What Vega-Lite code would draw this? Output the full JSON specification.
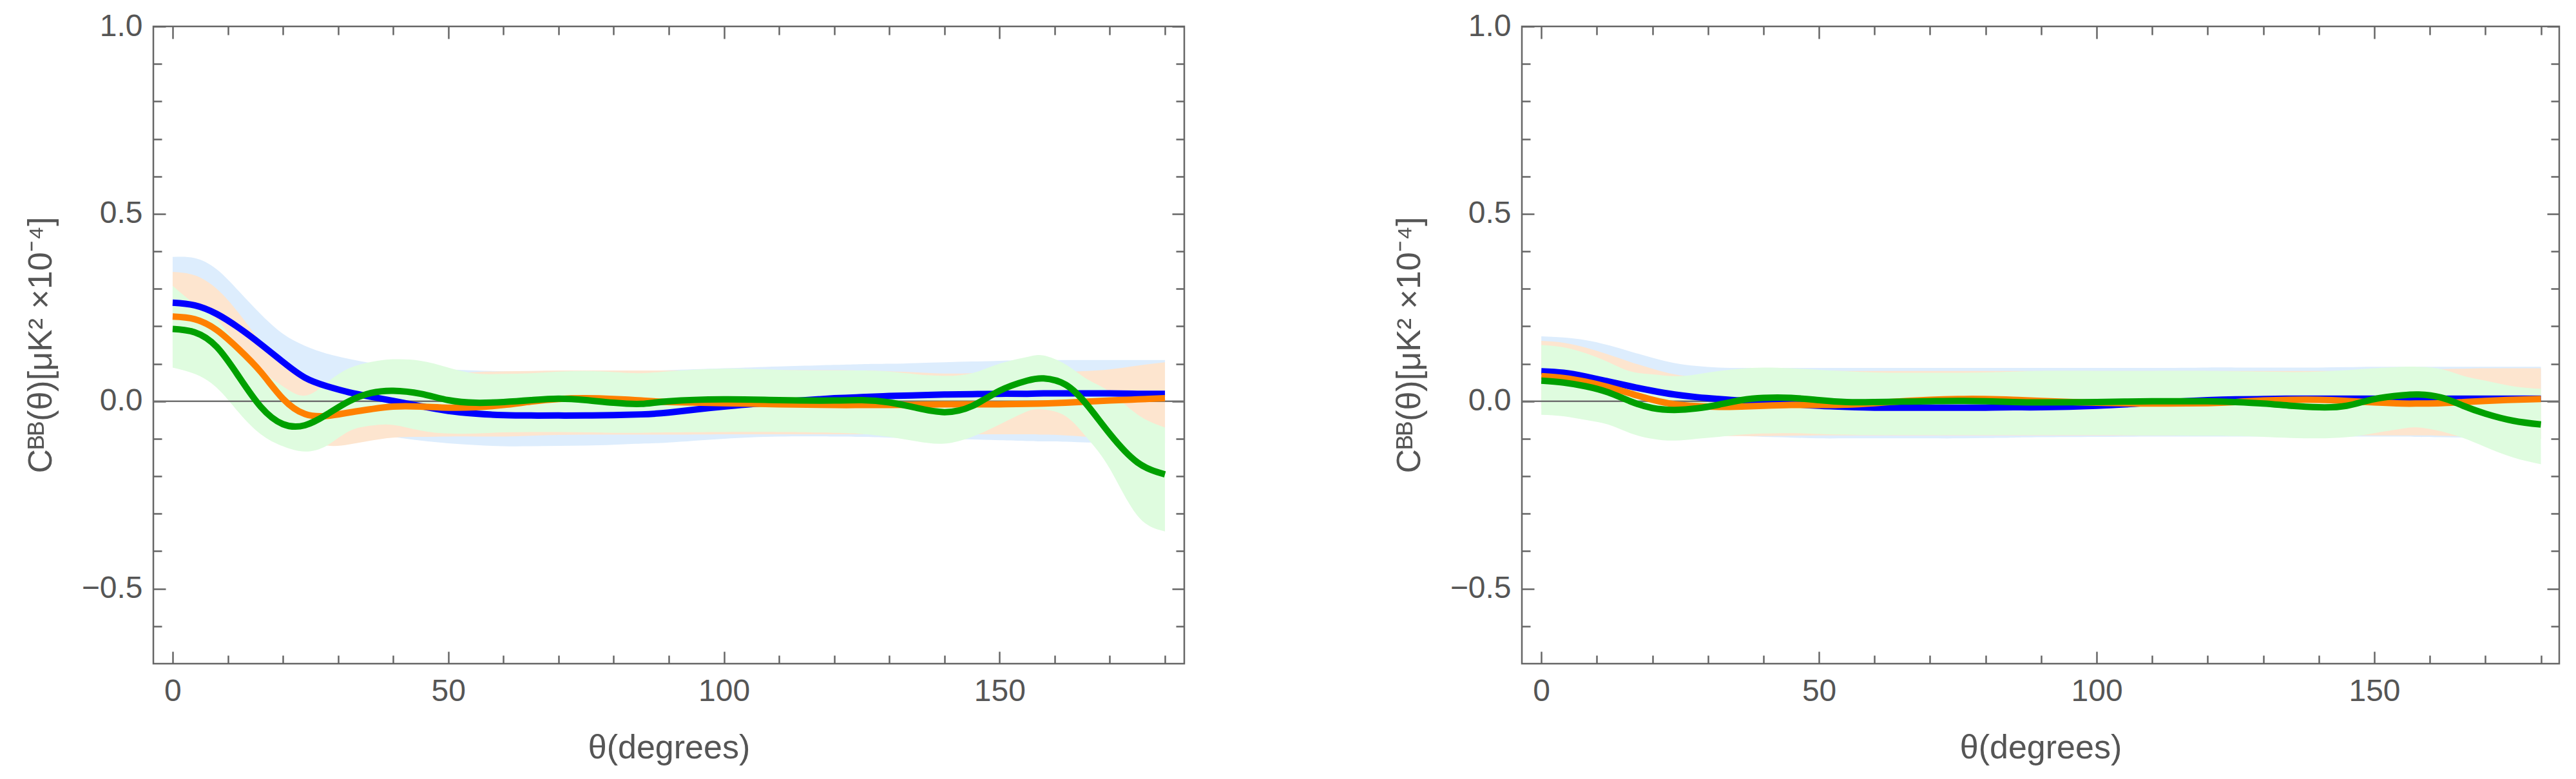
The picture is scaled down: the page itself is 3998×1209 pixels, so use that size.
{
  "$schema": "https://vega.github.io/schema/vega-lite/v6.json",
  "background": "white",
  "padding": {"left": 35, "top": 15, "right": 0, "bottom": 0},
  "spacing": 318,
  "config": {
    "view": {"stroke": "#666", "strokeWidth": 2.5},
    "axis": {"domain": false, "grid": false, "tickColor": "#666", "tickWidth": 2.5, "labelFont": "Liberation Sans", "labelFontSize": 48, "labelColor": "#555", "titleFont": "Liberation Sans", "titleFontSize": 52, "titleFontWeight": "normal", "titleColor": "#555", "minExtent": 0}
  },
  "datasets": {
    "d": [
      {"p":"L","s":"b","t":0,"m":0.263,"lo":0.14,"hi":0.385},
      {"p":"L","s":"b","t":4,"m":0.256,"lo":0.135,"hi":0.382},
      {"p":"L","s":"b","t":8,"m":0.233,"lo":0.115,"hi":0.352},
      {"p":"L","s":"b","t":12,"m":0.196,"lo":0.085,"hi":0.294},
      {"p":"L","s":"b","t":16,"m":0.152,"lo":0.05,"hi":0.232},
      {"p":"L","s":"b","t":20,"m":0.105,"lo":0.015,"hi":0.18},
      {"p":"L","s":"b","t":24,"m":0.063,"lo":-0.02,"hi":0.148},
      {"p":"L","s":"b","t":28,"m":0.04,"lo":-0.05,"hi":0.127},
      {"p":"L","s":"b","t":32,"m":0.024,"lo":-0.07,"hi":0.113},
      {"p":"L","s":"b","t":36,"m":0.012,"lo":-0.085,"hi":0.102},
      {"p":"L","s":"b","t":40,"m":0.001,"lo":-0.095,"hi":0.095},
      {"p":"L","s":"b","t":45,"m":-0.013,"lo":-0.105,"hi":0.09},
      {"p":"L","s":"b","t":50,"m":-0.026,"lo":-0.112,"hi":0.085},
      {"p":"L","s":"b","t":55,"m":-0.033,"lo":-0.117,"hi":0.082},
      {"p":"L","s":"b","t":60,"m":-0.037,"lo":-0.12,"hi":0.08},
      {"p":"L","s":"b","t":65,"m":-0.038,"lo":-0.12,"hi":0.079},
      {"p":"L","s":"b","t":70,"m":-0.038,"lo":-0.119,"hi":0.079},
      {"p":"L","s":"b","t":75,"m":-0.038,"lo":-0.118,"hi":0.079},
      {"p":"L","s":"b","t":80,"m":-0.037,"lo":-0.116,"hi":0.08},
      {"p":"L","s":"b","t":85,"m":-0.035,"lo":-0.113,"hi":0.081},
      {"p":"L","s":"b","t":90,"m":-0.03,"lo":-0.11,"hi":0.083},
      {"p":"L","s":"b","t":100,"m":-0.014,"lo":-0.1,"hi":0.088},
      {"p":"L","s":"b","t":110,"m":-0.002,"lo":-0.094,"hi":0.093},
      {"p":"L","s":"b","t":120,"m":0.008,"lo":-0.094,"hi":0.097},
      {"p":"L","s":"b","t":125,"m":0.011,"lo":-0.095,"hi":0.099},
      {"p":"L","s":"b","t":130,"m":0.014,"lo":-0.097,"hi":0.1},
      {"p":"L","s":"b","t":135,"m":0.016,"lo":-0.099,"hi":0.102},
      {"p":"L","s":"b","t":140,"m":0.018,"lo":-0.1,"hi":0.104},
      {"p":"L","s":"b","t":145,"m":0.019,"lo":-0.102,"hi":0.106},
      {"p":"L","s":"b","t":150,"m":0.02,"lo":-0.104,"hi":0.108},
      {"p":"L","s":"b","t":155,"m":0.02,"lo":-0.106,"hi":0.11},
      {"p":"L","s":"b","t":158,"m":0.021,"lo":-0.107,"hi":0.11},
      {"p":"L","s":"b","t":162,"m":0.021,"lo":-0.108,"hi":0.11},
      {"p":"L","s":"b","t":166,"m":0.021,"lo":-0.11,"hi":0.11},
      {"p":"L","s":"b","t":170,"m":0.021,"lo":-0.11,"hi":0.11},
      {"p":"L","s":"b","t":175,"m":0.02,"lo":-0.11,"hi":0.11},
      {"p":"L","s":"b","t":180,"m":0.02,"lo":-0.11,"hi":0.11},

      {"p":"L","s":"o","t":0,"m":0.226,"lo":0.105,"hi":0.345},
      {"p":"L","s":"o","t":4,"m":0.219,"lo":0.1,"hi":0.336},
      {"p":"L","s":"o","t":8,"m":0.19,"lo":0.075,"hi":0.3},
      {"p":"L","s":"o","t":12,"m":0.139,"lo":0.035,"hi":0.235},
      {"p":"L","s":"o","t":16,"m":0.078,"lo":-0.01,"hi":0.16},
      {"p":"L","s":"o","t":20,"m":0.007,"lo":-0.06,"hi":0.105},
      {"p":"L","s":"o","t":24,"m":-0.034,"lo":-0.095,"hi":0.065},
      {"p":"L","s":"o","t":28,"m":-0.039,"lo":-0.118,"hi":0.045},
      {"p":"L","s":"o","t":32,"m":-0.03,"lo":-0.115,"hi":0.04},
      {"p":"L","s":"o","t":36,"m":-0.021,"lo":-0.105,"hi":0.05},
      {"p":"L","s":"o","t":40,"m":-0.014,"lo":-0.097,"hi":0.06},
      {"p":"L","s":"o","t":45,"m":-0.014,"lo":-0.095,"hi":0.07},
      {"p":"L","s":"o","t":50,"m":-0.017,"lo":-0.094,"hi":0.075},
      {"p":"L","s":"o","t":55,"m":-0.016,"lo":-0.094,"hi":0.078},
      {"p":"L","s":"o","t":60,"m":-0.01,"lo":-0.094,"hi":0.08},
      {"p":"L","s":"o","t":65,"m":-0.001,"lo":-0.092,"hi":0.081},
      {"p":"L","s":"o","t":70,"m":0.006,"lo":-0.09,"hi":0.082},
      {"p":"L","s":"o","t":75,"m":0.008,"lo":-0.089,"hi":0.082},
      {"p":"L","s":"o","t":80,"m":0.006,"lo":-0.089,"hi":0.082},
      {"p":"L","s":"o","t":85,"m":0.002,"lo":-0.089,"hi":0.082},
      {"p":"L","s":"o","t":90,"m":-0.002,"lo":-0.089,"hi":0.082},
      {"p":"L","s":"o","t":100,"m":-0.005,"lo":-0.088,"hi":0.082},
      {"p":"L","s":"o","t":110,"m":-0.008,"lo":-0.088,"hi":0.083},
      {"p":"L","s":"o","t":120,"m":-0.01,"lo":-0.088,"hi":0.083},
      {"p":"L","s":"o","t":125,"m":-0.01,"lo":-0.088,"hi":0.082},
      {"p":"L","s":"o","t":130,"m":-0.01,"lo":-0.088,"hi":0.08},
      {"p":"L","s":"o","t":135,"m":-0.009,"lo":-0.088,"hi":0.077},
      {"p":"L","s":"o","t":140,"m":-0.008,"lo":-0.088,"hi":0.074},
      {"p":"L","s":"o","t":145,"m":-0.008,"lo":-0.088,"hi":0.075},
      {"p":"L","s":"o","t":150,"m":-0.008,"lo":-0.088,"hi":0.077},
      {"p":"L","s":"o","t":155,"m":-0.007,"lo":-0.088,"hi":0.078},
      {"p":"L","s":"o","t":158,"m":-0.006,"lo":-0.089,"hi":0.078},
      {"p":"L","s":"o","t":162,"m":-0.004,"lo":-0.091,"hi":0.079},
      {"p":"L","s":"o","t":166,"m":-0.001,"lo":-0.095,"hi":0.081},
      {"p":"L","s":"o","t":170,"m":0.002,"lo":-0.1,"hi":0.085},
      {"p":"L","s":"o","t":175,"m":0.005,"lo":-0.106,"hi":0.095},
      {"p":"L","s":"o","t":180,"m":0.008,"lo":-0.11,"hi":0.104},

      {"p":"L","s":"g","t":0,"m":0.193,"lo":0.09,"hi":0.308},
      {"p":"L","s":"g","t":4,"m":0.184,"lo":0.073,"hi":0.26},
      {"p":"L","s":"g","t":8,"m":0.145,"lo":0.036,"hi":0.218},
      {"p":"L","s":"g","t":12,"m":0.066,"lo":-0.03,"hi":0.145},
      {"p":"L","s":"g","t":16,"m":-0.015,"lo":-0.088,"hi":0.083},
      {"p":"L","s":"g","t":20,"m":-0.061,"lo":-0.12,"hi":0.04},
      {"p":"L","s":"g","t":24,"m":-0.064,"lo":-0.134,"hi":0.015},
      {"p":"L","s":"g","t":28,"m":-0.035,"lo":-0.118,"hi":0.05},
      {"p":"L","s":"g","t":32,"m":0.0,"lo":-0.08,"hi":0.088},
      {"p":"L","s":"g","t":36,"m":0.022,"lo":-0.065,"hi":0.105},
      {"p":"L","s":"g","t":40,"m":0.028,"lo":-0.063,"hi":0.112},
      {"p":"L","s":"g","t":45,"m":0.02,"lo":-0.078,"hi":0.108},
      {"p":"L","s":"g","t":50,"m":0.003,"lo":-0.086,"hi":0.09},
      {"p":"L","s":"g","t":55,"m":-0.004,"lo":-0.086,"hi":0.074},
      {"p":"L","s":"g","t":60,"m":-0.002,"lo":-0.083,"hi":0.073},
      {"p":"L","s":"g","t":65,"m":0.003,"lo":-0.082,"hi":0.075},
      {"p":"L","s":"g","t":70,"m":0.007,"lo":-0.082,"hi":0.079},
      {"p":"L","s":"g","t":75,"m":0.003,"lo":-0.083,"hi":0.081},
      {"p":"L","s":"g","t":80,"m":-0.004,"lo":-0.084,"hi":0.078},
      {"p":"L","s":"g","t":85,"m":-0.007,"lo":-0.084,"hi":0.075},
      {"p":"L","s":"g","t":90,"m":0.0,"lo":-0.083,"hi":0.08},
      {"p":"L","s":"g","t":100,"m":0.005,"lo":-0.082,"hi":0.087},
      {"p":"L","s":"g","t":110,"m":0.003,"lo":-0.082,"hi":0.084},
      {"p":"L","s":"g","t":120,"m":0.002,"lo":-0.084,"hi":0.082},
      {"p":"L","s":"g","t":125,"m":0.003,"lo":-0.087,"hi":0.082},
      {"p":"L","s":"g","t":130,"m":-0.003,"lo":-0.095,"hi":0.079},
      {"p":"L","s":"g","t":135,"m":-0.018,"lo":-0.107,"hi":0.072},
      {"p":"L","s":"g","t":140,"m":-0.029,"lo":-0.113,"hi":0.068},
      {"p":"L","s":"g","t":145,"m":-0.013,"lo":-0.095,"hi":0.075},
      {"p":"L","s":"g","t":150,"m":0.028,"lo":-0.062,"hi":0.1},
      {"p":"L","s":"g","t":155,"m":0.055,"lo":-0.027,"hi":0.118},
      {"p":"L","s":"g","t":158,"m":0.061,"lo":-0.022,"hi":0.122},
      {"p":"L","s":"g","t":162,"m":0.044,"lo":-0.04,"hi":0.098},
      {"p":"L","s":"g","t":166,"m":-0.012,"lo":-0.1,"hi":0.058},
      {"p":"L","s":"g","t":170,"m":-0.087,"lo":-0.18,"hi":0.025},
      {"p":"L","s":"g","t":175,"m":-0.163,"lo":-0.305,"hi":-0.035},
      {"p":"L","s":"g","t":180,"m":-0.195,"lo":-0.347,"hi":-0.07},

      {"p":"R","s":"b","t":0,"m":0.08,"lo":-0.01,"hi":0.173},
      {"p":"R","s":"b","t":4,"m":0.076,"lo":-0.013,"hi":0.17},
      {"p":"R","s":"b","t":8,"m":0.066,"lo":-0.02,"hi":0.163},
      {"p":"R","s":"b","t":12,"m":0.053,"lo":-0.03,"hi":0.15},
      {"p":"R","s":"b","t":16,"m":0.04,"lo":-0.045,"hi":0.133},
      {"p":"R","s":"b","t":20,"m":0.028,"lo":-0.06,"hi":0.116},
      {"p":"R","s":"b","t":24,"m":0.018,"lo":-0.07,"hi":0.102},
      {"p":"R","s":"b","t":28,"m":0.011,"lo":-0.08,"hi":0.094},
      {"p":"R","s":"b","t":32,"m":0.006,"lo":-0.088,"hi":0.09},
      {"p":"R","s":"b","t":36,"m":0.002,"lo":-0.092,"hi":0.089},
      {"p":"R","s":"b","t":40,"m":-0.001,"lo":-0.095,"hi":0.089},
      {"p":"R","s":"b","t":45,"m":-0.007,"lo":-0.097,"hi":0.089},
      {"p":"R","s":"b","t":50,"m":-0.012,"lo":-0.099,"hi":0.089},
      {"p":"R","s":"b","t":55,"m":-0.015,"lo":-0.099,"hi":0.089},
      {"p":"R","s":"b","t":60,"m":-0.017,"lo":-0.099,"hi":0.089},
      {"p":"R","s":"b","t":65,"m":-0.017,"lo":-0.099,"hi":0.089},
      {"p":"R","s":"b","t":70,"m":-0.017,"lo":-0.099,"hi":0.089},
      {"p":"R","s":"b","t":75,"m":-0.017,"lo":-0.099,"hi":0.089},
      {"p":"R","s":"b","t":80,"m":-0.017,"lo":-0.098,"hi":0.089},
      {"p":"R","s":"b","t":85,"m":-0.016,"lo":-0.097,"hi":0.089},
      {"p":"R","s":"b","t":90,"m":-0.016,"lo":-0.096,"hi":0.089},
      {"p":"R","s":"b","t":100,"m":-0.012,"lo":-0.095,"hi":0.089},
      {"p":"R","s":"b","t":110,"m":-0.004,"lo":-0.094,"hi":0.089},
      {"p":"R","s":"b","t":120,"m":0.003,"lo":-0.094,"hi":0.09},
      {"p":"R","s":"b","t":125,"m":0.005,"lo":-0.094,"hi":0.09},
      {"p":"R","s":"b","t":130,"m":0.006,"lo":-0.094,"hi":0.09},
      {"p":"R","s":"b","t":135,"m":0.007,"lo":-0.094,"hi":0.09},
      {"p":"R","s":"b","t":140,"m":0.007,"lo":-0.094,"hi":0.09},
      {"p":"R","s":"b","t":145,"m":0.007,"lo":-0.094,"hi":0.091},
      {"p":"R","s":"b","t":150,"m":0.007,"lo":-0.094,"hi":0.092},
      {"p":"R","s":"b","t":155,"m":0.007,"lo":-0.094,"hi":0.092},
      {"p":"R","s":"b","t":158,"m":0.007,"lo":-0.095,"hi":0.092},
      {"p":"R","s":"b","t":162,"m":0.007,"lo":-0.096,"hi":0.092},
      {"p":"R","s":"b","t":166,"m":0.007,"lo":-0.097,"hi":0.092},
      {"p":"R","s":"b","t":170,"m":0.007,"lo":-0.098,"hi":0.092},
      {"p":"R","s":"b","t":175,"m":0.007,"lo":-0.099,"hi":0.092},
      {"p":"R","s":"b","t":180,"m":0.007,"lo":-0.1,"hi":0.092},

      {"p":"R","s":"o","t":0,"m":0.067,"lo":-0.02,"hi":0.161},
      {"p":"R","s":"o","t":4,"m":0.062,"lo":-0.024,"hi":0.156},
      {"p":"R","s":"o","t":8,"m":0.052,"lo":-0.03,"hi":0.143},
      {"p":"R","s":"o","t":12,"m":0.038,"lo":-0.04,"hi":0.125},
      {"p":"R","s":"o","t":16,"m":0.021,"lo":-0.055,"hi":0.105},
      {"p":"R","s":"o","t":20,"m":0.004,"lo":-0.07,"hi":0.087},
      {"p":"R","s":"o","t":24,"m":-0.008,"lo":-0.08,"hi":0.072},
      {"p":"R","s":"o","t":28,"m":-0.013,"lo":-0.088,"hi":0.066},
      {"p":"R","s":"o","t":32,"m":-0.015,"lo":-0.092,"hi":0.07},
      {"p":"R","s":"o","t":36,"m":-0.014,"lo":-0.093,"hi":0.075},
      {"p":"R","s":"o","t":40,"m":-0.012,"lo":-0.093,"hi":0.078},
      {"p":"R","s":"o","t":45,"m":-0.01,"lo":-0.092,"hi":0.08},
      {"p":"R","s":"o","t":50,"m":-0.01,"lo":-0.091,"hi":0.081},
      {"p":"R","s":"o","t":55,"m":-0.009,"lo":-0.091,"hi":0.081},
      {"p":"R","s":"o","t":60,"m":-0.005,"lo":-0.091,"hi":0.081},
      {"p":"R","s":"o","t":65,"m":0.0,"lo":-0.091,"hi":0.081},
      {"p":"R","s":"o","t":70,"m":0.004,"lo":-0.091,"hi":0.081},
      {"p":"R","s":"o","t":75,"m":0.006,"lo":-0.091,"hi":0.081},
      {"p":"R","s":"o","t":80,"m":0.006,"lo":-0.091,"hi":0.081},
      {"p":"R","s":"o","t":85,"m":0.004,"lo":-0.091,"hi":0.081},
      {"p":"R","s":"o","t":90,"m":0.001,"lo":-0.091,"hi":0.081},
      {"p":"R","s":"o","t":100,"m":-0.004,"lo":-0.091,"hi":0.081},
      {"p":"R","s":"o","t":110,"m":-0.006,"lo":-0.091,"hi":0.081},
      {"p":"R","s":"o","t":120,"m":-0.005,"lo":-0.091,"hi":0.081},
      {"p":"R","s":"o","t":125,"m":-0.002,"lo":-0.091,"hi":0.081},
      {"p":"R","s":"o","t":130,"m":0.002,"lo":-0.091,"hi":0.081},
      {"p":"R","s":"o","t":135,"m":0.004,"lo":-0.091,"hi":0.081},
      {"p":"R","s":"o","t":140,"m":0.004,"lo":-0.091,"hi":0.081},
      {"p":"R","s":"o","t":145,"m":0.001,"lo":-0.091,"hi":0.081},
      {"p":"R","s":"o","t":150,"m":-0.003,"lo":-0.091,"hi":0.082},
      {"p":"R","s":"o","t":155,"m":-0.006,"lo":-0.091,"hi":0.083},
      {"p":"R","s":"o","t":158,"m":-0.006,"lo":-0.091,"hi":0.084},
      {"p":"R","s":"o","t":162,"m":-0.005,"lo":-0.092,"hi":0.086},
      {"p":"R","s":"o","t":166,"m":-0.002,"lo":-0.094,"hi":0.087},
      {"p":"R","s":"o","t":170,"m":0.001,"lo":-0.096,"hi":0.088},
      {"p":"R","s":"o","t":175,"m":0.004,"lo":-0.098,"hi":0.088},
      {"p":"R","s":"o","t":180,"m":0.006,"lo":-0.1,"hi":0.088},

      {"p":"R","s":"g","t":0,"m":0.055,"lo":-0.036,"hi":0.15},
      {"p":"R","s":"g","t":4,"m":0.05,"lo":-0.04,"hi":0.144},
      {"p":"R","s":"g","t":8,"m":0.04,"lo":-0.05,"hi":0.128},
      {"p":"R","s":"g","t":12,"m":0.024,"lo":-0.062,"hi":0.105},
      {"p":"R","s":"g","t":16,"m":0.0,"lo":-0.085,"hi":0.08},
      {"p":"R","s":"g","t":20,"m":-0.018,"lo":-0.1,"hi":0.072},
      {"p":"R","s":"g","t":24,"m":-0.023,"lo":-0.105,"hi":0.067},
      {"p":"R","s":"g","t":28,"m":-0.019,"lo":-0.1,"hi":0.072},
      {"p":"R","s":"g","t":32,"m":-0.009,"lo":-0.095,"hi":0.081},
      {"p":"R","s":"g","t":36,"m":0.003,"lo":-0.089,"hi":0.087},
      {"p":"R","s":"g","t":40,"m":0.009,"lo":-0.086,"hi":0.09},
      {"p":"R","s":"g","t":45,"m":0.009,"lo":-0.085,"hi":0.088},
      {"p":"R","s":"g","t":50,"m":0.003,"lo":-0.087,"hi":0.084},
      {"p":"R","s":"g","t":55,"m":-0.002,"lo":-0.089,"hi":0.08},
      {"p":"R","s":"g","t":60,"m":-0.002,"lo":-0.09,"hi":0.077},
      {"p":"R","s":"g","t":65,"m":-0.001,"lo":-0.09,"hi":0.076},
      {"p":"R","s":"g","t":70,"m":0.0,"lo":-0.09,"hi":0.076},
      {"p":"R","s":"g","t":75,"m":0.001,"lo":-0.09,"hi":0.076},
      {"p":"R","s":"g","t":80,"m":0.0,"lo":-0.09,"hi":0.077},
      {"p":"R","s":"g","t":85,"m":-0.002,"lo":-0.09,"hi":0.079},
      {"p":"R","s":"g","t":90,"m":-0.003,"lo":-0.09,"hi":0.081},
      {"p":"R","s":"g","t":100,"m":-0.002,"lo":-0.09,"hi":0.081},
      {"p":"R","s":"g","t":110,"m":0.0,"lo":-0.091,"hi":0.081},
      {"p":"R","s":"g","t":120,"m":0.0,"lo":-0.092,"hi":0.081},
      {"p":"R","s":"g","t":125,"m":-0.002,"lo":-0.093,"hi":0.08},
      {"p":"R","s":"g","t":130,"m":-0.006,"lo":-0.095,"hi":0.079},
      {"p":"R","s":"g","t":135,"m":-0.012,"lo":-0.098,"hi":0.078},
      {"p":"R","s":"g","t":140,"m":-0.016,"lo":-0.099,"hi":0.079},
      {"p":"R","s":"g","t":145,"m":-0.012,"lo":-0.096,"hi":0.083},
      {"p":"R","s":"g","t":150,"m":0.006,"lo":-0.085,"hi":0.088},
      {"p":"R","s":"g","t":155,"m":0.016,"lo":-0.073,"hi":0.092},
      {"p":"R","s":"g","t":158,"m":0.018,"lo":-0.07,"hi":0.092},
      {"p":"R","s":"g","t":162,"m":0.01,"lo":-0.08,"hi":0.086},
      {"p":"R","s":"g","t":166,"m":-0.012,"lo":-0.098,"hi":0.068},
      {"p":"R","s":"g","t":170,"m":-0.033,"lo":-0.122,"hi":0.055},
      {"p":"R","s":"g","t":175,"m":-0.052,"lo":-0.15,"hi":0.04},
      {"p":"R","s":"g","t":180,"m":-0.062,"lo":-0.168,"hi":0.033}
    ]
  },
  "hconcat": [
    {
      "width": 1600, "height": 989,
      "data": {"name": "d"},
      "transform": [{"filter": "datum.p === 'L'"}],
      "layer": [
        {"transform": [{"filter": "datum.s === 'b'"}],
         "mark": {"type": "area", "interpolate": "natural", "color": "#DDEDFD"},
         "encoding": {
           "x": {"field": "t", "type": "quantitative", "scale": {"domain": [-3.5, 183.5], "nice": false, "zero": false},
                 "axis": {"orient": "bottom", "values": [0,10,20,30,40,50,60,70,80,90,100,110,120,130,140,150,160,170,180], "tickSize": {"condition": {"test": "datum.value % 50 === 0", "value": -19}, "value": -13}, "labelExpr": "datum.value % 50 === 0 ? datum.label : ''", "labelPadding": 38, "title": "θ(degrees)", "titleX": 800, "titleY": 146, "titleBaseline": "alphabetic", "titleAlign": "center", "titleAnchor": "middle"}},
           "y": {"field": "lo", "type": "quantitative", "scale": {"domain": [-0.7, 1.0], "nice": false, "zero": false},
                 "axis": {"orient": "left", "values": [-0.6,-0.5,-0.4,-0.3,-0.2,-0.1,0,0.1,0.2,0.3,0.4,0.5,0.6,0.7,0.8,0.9,1.0], "tickSize": {"condition": {"test": "abs(datum.value*2 - round(datum.value*2)) < 0.001", "value": -19}, "value": -13}, "labelExpr": "abs(datum.value*2 - round(datum.value*2)) < 0.001 ? format(datum.value, '.1f') : ''", "labelPadding": 36, "title": "Cᴮᴮ(θ)[μK² ×10⁻⁴]", "titleX": -159, "titleY": 494, "titleAngle": -90, "titleBaseline": "alphabetic", "titleAlign": "center", "titleAnchor": "middle"}},
           "y2": {"field": "hi"}
         }},
        {"transform": [{"filter": "datum.s === 'o'"}],
         "mark": {"type": "area", "interpolate": "natural", "color": "#FDE5CF"},
         "encoding": {
           "x": {"field": "t", "type": "quantitative", "axis": {"orient": "top", "values": [0,10,20,30,40,50,60,70,80,90,100,110,120,130,140,150,160,170,180], "tickSize": {"condition": {"test": "datum.value % 50 === 0", "value": -19}, "value": -13}, "labels": false, "title": null}},
           "y": {"field": "lo", "type": "quantitative", "axis": {"orient": "right", "values": [-0.6,-0.5,-0.4,-0.3,-0.2,-0.1,0,0.1,0.2,0.3,0.4,0.5,0.6,0.7,0.8,0.9,1.0], "tickSize": {"condition": {"test": "abs(datum.value*2 - round(datum.value*2)) < 0.001", "value": -19}, "value": -13}, "labels": false, "title": null}},
           "y2": {"field": "hi"}
         }},
        {"transform": [{"filter": "datum.s === 'g'"}],
         "mark": {"type": "area", "interpolate": "natural", "color": "#DFFCDF"},
         "encoding": {
           "x": {"field": "t", "type": "quantitative", "axis": null},
           "y": {"field": "lo", "type": "quantitative", "axis": null},
           "y2": {"field": "hi"}
         }},
        {"data": {"values": [{}]},
         "mark": {"type": "rule", "color": "#707070", "strokeWidth": 2.5},
         "encoding": {"y": {"datum": 0, "type": "quantitative", "axis": null}}},
        {"transform": [{"filter": "datum.s === 'b'"}],
         "mark": {"type": "line", "interpolate": "natural", "color": "#0000FF", "strokeWidth": 10},
         "encoding": {"x": {"field": "t", "type": "quantitative", "axis": null}, "y": {"field": "m", "type": "quantitative", "axis": null}}},
        {"transform": [{"filter": "datum.s === 'o'"}],
         "mark": {"type": "line", "interpolate": "natural", "color": "#FF8000", "strokeWidth": 10},
         "encoding": {"x": {"field": "t", "type": "quantitative", "axis": null}, "y": {"field": "m", "type": "quantitative", "axis": null}}},
        {"transform": [{"filter": "datum.s === 'g'"}],
         "mark": {"type": "line", "interpolate": "natural", "color": "#00A000", "strokeWidth": 10},
         "encoding": {"x": {"field": "t", "type": "quantitative", "axis": null}, "y": {"field": "m", "type": "quantitative", "axis": null}}}
      ],
      "resolve": {"axis": {"x": "independent", "y": "independent"}}
    },
    {
      "width": 1610, "height": 989,
      "data": {"name": "d"},
      "transform": [{"filter": "datum.p === 'R'"}],
      "layer": [
        {"transform": [{"filter": "datum.s === 'b'"}],
         "mark": {"type": "area", "interpolate": "natural", "color": "#DDEDFD"},
         "encoding": {
           "x": {"field": "t", "type": "quantitative", "scale": {"domain": [-3.5, 183.3], "nice": false, "zero": false},
                 "axis": {"orient": "bottom", "values": [0,10,20,30,40,50,60,70,80,90,100,110,120,130,140,150,160,170,180], "tickSize": {"condition": {"test": "datum.value % 50 === 0", "value": -19}, "value": -13}, "labelExpr": "datum.value % 50 === 0 ? datum.label : ''", "labelPadding": 38, "title": "θ(degrees)", "titleX": 805, "titleY": 146, "titleBaseline": "alphabetic", "titleAlign": "center", "titleAnchor": "middle"}},
           "y": {"field": "lo", "type": "quantitative", "scale": {"domain": [-0.7, 1.0], "nice": false, "zero": false},
                 "axis": {"orient": "left", "values": [-0.6,-0.5,-0.4,-0.3,-0.2,-0.1,0,0.1,0.2,0.3,0.4,0.5,0.6,0.7,0.8,0.9,1.0], "tickSize": {"condition": {"test": "abs(datum.value*2 - round(datum.value*2)) < 0.001", "value": -19}, "value": -13}, "labelExpr": "abs(datum.value*2 - round(datum.value*2)) < 0.001 ? format(datum.value, '.1f') : ''", "labelPadding": 36, "title": "Cᴮᴮ(θ)[μK² ×10⁻⁴]", "titleX": -159, "titleY": 494, "titleAngle": -90, "titleBaseline": "alphabetic", "titleAlign": "center", "titleAnchor": "middle"}},
           "y2": {"field": "hi"}
         }},
        {"transform": [{"filter": "datum.s === 'o'"}],
         "mark": {"type": "area", "interpolate": "natural", "color": "#FDE5CF"},
         "encoding": {
           "x": {"field": "t", "type": "quantitative", "axis": {"orient": "top", "values": [0,10,20,30,40,50,60,70,80,90,100,110,120,130,140,150,160,170,180], "tickSize": {"condition": {"test": "datum.value % 50 === 0", "value": -19}, "value": -13}, "labels": false, "title": null}},
           "y": {"field": "lo", "type": "quantitative", "axis": {"orient": "right", "values": [-0.6,-0.5,-0.4,-0.3,-0.2,-0.1,0,0.1,0.2,0.3,0.4,0.5,0.6,0.7,0.8,0.9,1.0], "tickSize": {"condition": {"test": "abs(datum.value*2 - round(datum.value*2)) < 0.001", "value": -19}, "value": -13}, "labels": false, "title": null}},
           "y2": {"field": "hi"}
         }},
        {"transform": [{"filter": "datum.s === 'g'"}],
         "mark": {"type": "area", "interpolate": "natural", "color": "#DFFCDF"},
         "encoding": {
           "x": {"field": "t", "type": "quantitative", "axis": null},
           "y": {"field": "lo", "type": "quantitative", "axis": null},
           "y2": {"field": "hi"}
         }},
        {"data": {"values": [{}]},
         "mark": {"type": "rule", "color": "#707070", "strokeWidth": 2.5},
         "encoding": {"y": {"datum": 0, "type": "quantitative", "axis": null}}},
        {"transform": [{"filter": "datum.s === 'b'"}],
         "mark": {"type": "line", "interpolate": "natural", "color": "#0000FF", "strokeWidth": 10},
         "encoding": {"x": {"field": "t", "type": "quantitative", "axis": null}, "y": {"field": "m", "type": "quantitative", "axis": null}}},
        {"transform": [{"filter": "datum.s === 'o'"}],
         "mark": {"type": "line", "interpolate": "natural", "color": "#FF8000", "strokeWidth": 10},
         "encoding": {"x": {"field": "t", "type": "quantitative", "axis": null}, "y": {"field": "m", "type": "quantitative", "axis": null}}},
        {"transform": [{"filter": "datum.s === 'g'"}],
         "mark": {"type": "line", "interpolate": "natural", "color": "#00A000", "strokeWidth": 10},
         "encoding": {"x": {"field": "t", "type": "quantitative", "axis": null}, "y": {"field": "m", "type": "quantitative", "axis": null}}}
      ],
      "resolve": {"axis": {"x": "independent", "y": "independent"}}
    }
  ]
}
